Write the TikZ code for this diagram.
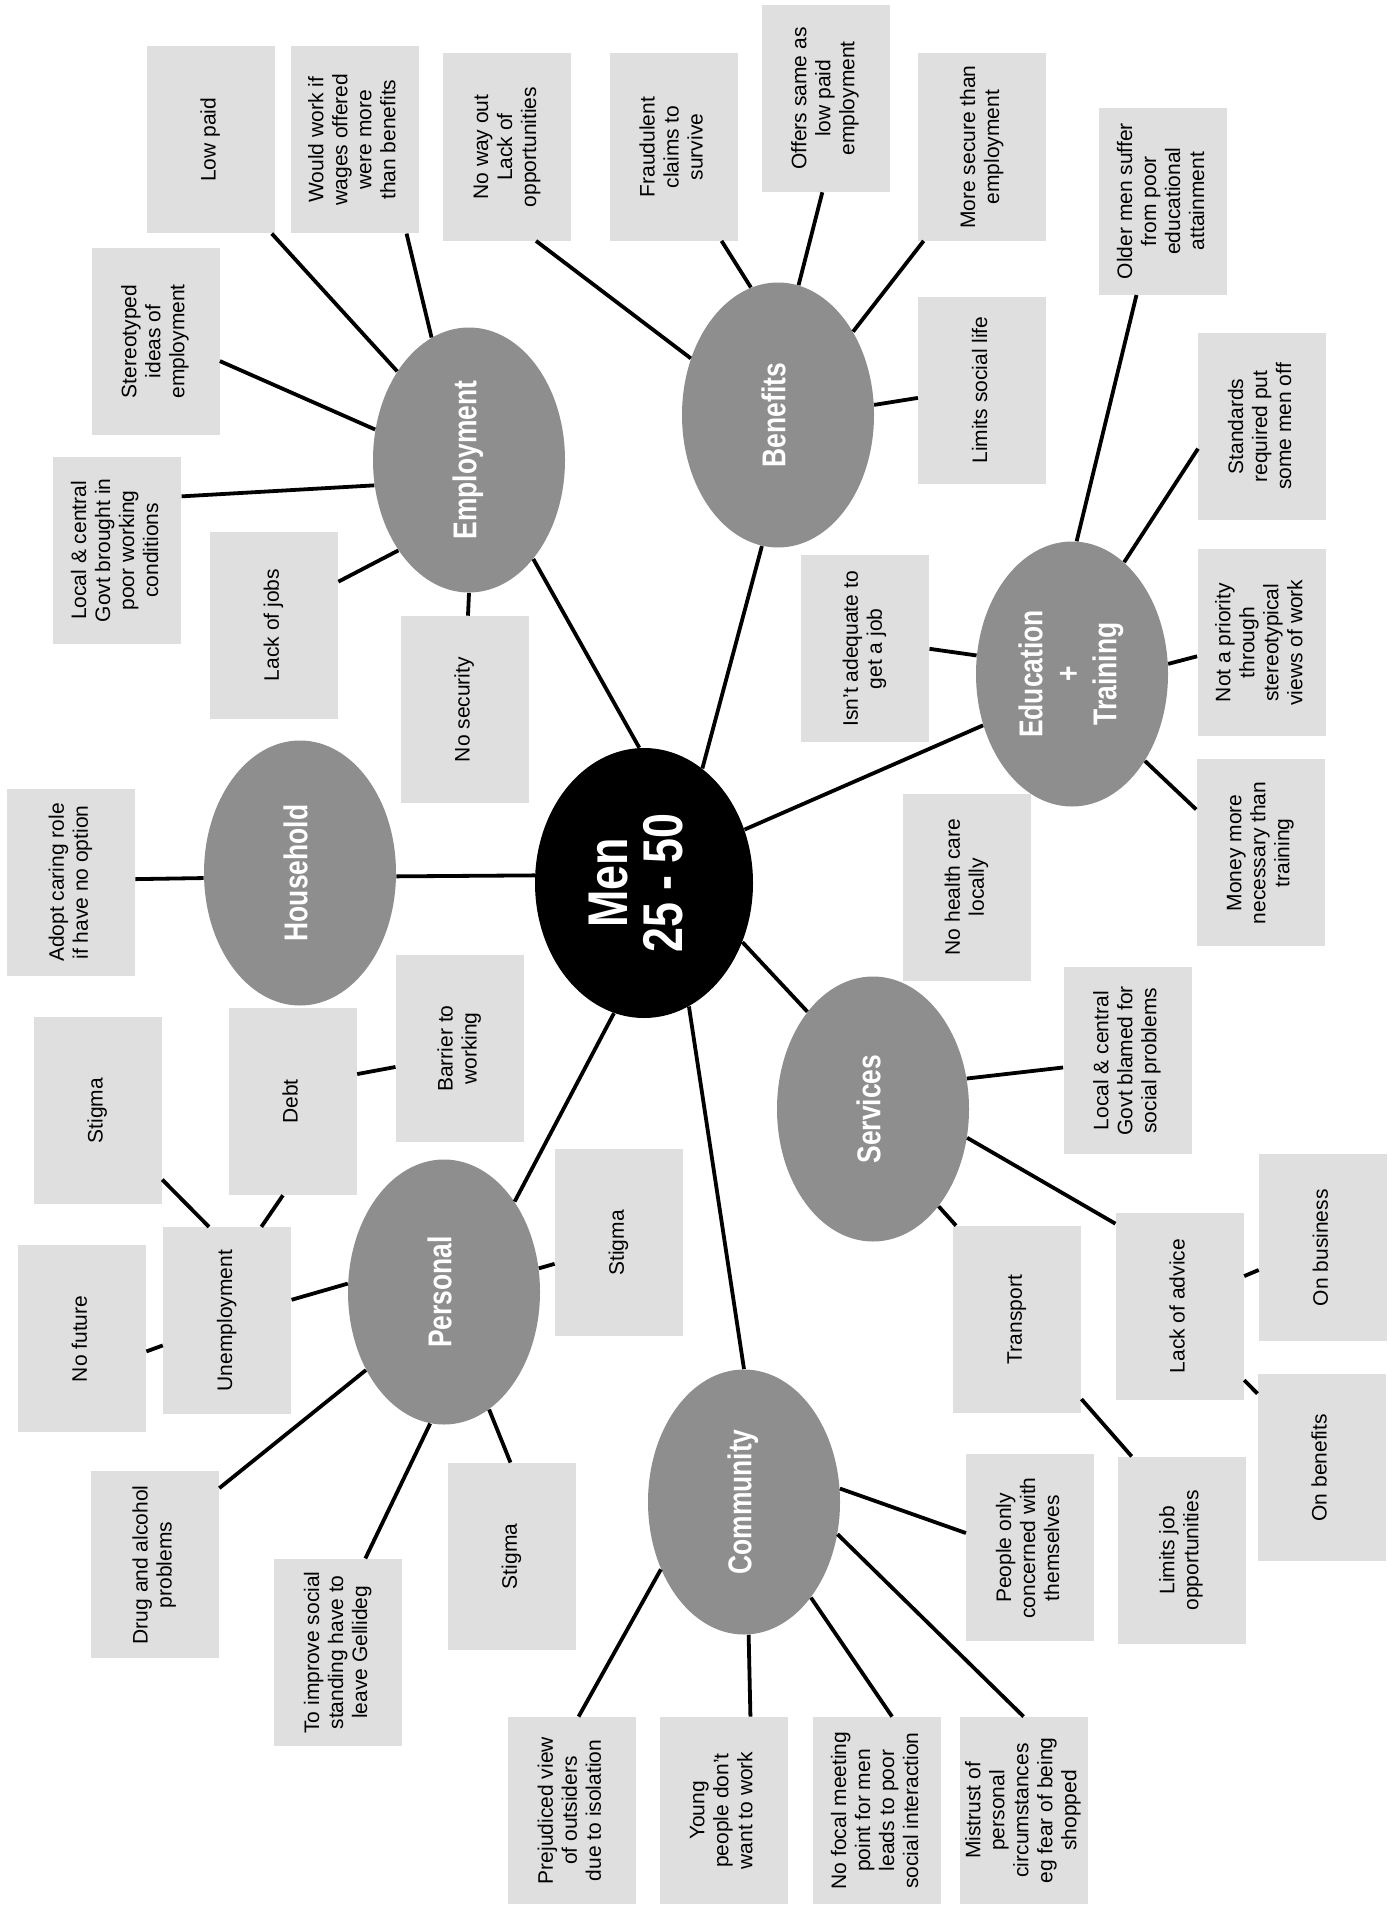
\documentclass[tikz,border=0pt]{standalone}
\usepackage{fontspec}
\usepackage{graphicx}
\setmainfont{Liberation Sans}
\newfontfamily\labelfont{Liberation Sans Bold}[FakeStretch=0.8]
\usetikzlibrary{shapes.geometric}
\definecolor{boxgray}{HTML}{DFDFDF}
\definecolor{topicgray}{HTML}{8E8E8E}
\newcommand\rt[1]{\rotatebox{90}{\begin{tabular}{@{}c@{}}#1\end{tabular}}}
\newcommand\boxfont{\fontsize{10.5}{12}\selectfont}
\newcommand\topicfont{\labelfont\fontsize{16.5}{18.5}\selectfont}
\newcommand\hubfont{\labelfont\fontsize{28}{27}\selectfont}
\tikzset{
  box/.style={fill=boxgray, minimum width=64pt, minimum height=93.5pt, inner sep=0pt, font=\boxfont},
  topic/.style={ellipse, fill=topicgray, minimum width=96pt, minimum height=132.5pt, inner sep=0pt, text=white, font=\topicfont},
  hub/.style={ellipse, fill=black, minimum width=109pt, minimum height=135pt, inner sep=0pt, text=white, font=\hubfont},
  link/.style={line width=1.9pt, black}
}
\begin{document}
\begin{tikzpicture}[x=0.5pt, y=-0.5pt]
\useasboundingbox (0,0) rectangle (1396,1905);
% ellipses
\node[hub] (men) at (644,883) {\rt{Men\\25 - 50}};
\node[topic] (emp) at (469,460) {\rt{Employment}};
\node[topic] (ben) at (778,415) {\rt{Benefits}};
\node[topic] (edu) at (1072,674) {\rt{Education\\+\\Training}};
\node[topic] (hou) at (300,873) {\rt{Household}};
\node[topic] (ser) at (873,1109) {\rt{Services}};
\node[topic] (per) at (444,1292) {\rt{Personal}};
\node[topic] (com) at (744,1502) {\rt{Community}};
% boxes
\node[box] (lowpaid) at (210.8,139.7) {\rt{Low paid}};
\node[box] (wouldwork) at (354.5,139.7) {\rt{Would work if\\wages offered\\were more\\than benefits}};
\node[box] (noway) at (507.3,147) {\rt{No way out\\Lack of\\opportunities}};
\node[box] (fraud) at (673.7,147) {\rt{Fraudulent\\claims to\\survive}};
\node[box] (offers) at (825.6,98.4) {\rt{Offers same as\\low paid\\employment}};
\node[box] (moresecure) at (982.3,147) {\rt{More secure than\\employment}};
\node[box] (older) at (1163.4,201.1) {\rt{Older men suffer\\from poor\\educational\\attainment}};
\node[box] (stereo) at (155.5,341.4) {\rt{Stereotyped\\ideas of\\employment}};
\node[box] (limitssocial) at (982.3,390) {\rt{Limits social life}};
\node[box] (standards) at (1262.4,426.5) {\rt{Standards\\required put\\some men off}};
\node[box] (govtbrought) at (117.2,550.4) {\rt{Local \& central\\Govt brought in\\poor working\\conditions}};
\node[box] (lackjobs) at (274,625.1) {\rt{Lack of jobs}};
\node[box] (nosecurity) at (464.7,709.6) {\rt{No security}};
\node[box] (isnt) at (865.1,648.8) {\rt{Isn’t adequate to\\get a job}};
\node[box] (notpriority) at (1261.5,642.6) {\rt{Not a priority\\through\\stereotypical\\views of work}};
\node[box] (adopt) at (71,882.5) {\rt{Adopt caring role\\if have no option}};
\node[box] (nohealth) at (967.1,887) {\rt{No health care\\locally}};
\node[box] (money) at (1260.6,852.9) {\rt{Money more\\necessary than\\training}};
\node[box] (barrier) at (459.9,1048.5) {\rt{Barrier to\\working}};
\node[box] (debt) at (292.8,1101.4) {\rt{Debt}};
\node[box] (stigmaA) at (97.8,1110.5) {\rt{Stigma}};
\node[box] (govtblamed) at (1127.5,1060.7) {\rt{Local \& central\\Govt blamed for\\social problems}};
\node[box] (stigmaB) at (619,1242.9) {\rt{Stigma}};
\node[box] (unemp) at (227.2,1320.7) {\rt{Unemployment}};
\node[box] (nofuture) at (82,1338.9) {\rt{No future}};
\node[box] (onbusiness) at (1323.1,1247.8) {\rt{On business}};
\node[box] (transport) at (1017,1319.5) {\rt{Transport}};
\node[box] (lackadvice) at (1179.8,1306.1) {\rt{Lack of advice}};
\node[box] (onbenefits) at (1321.9,1467.7) {\rt{On benefits}};
\node[box] (drug) at (154.9,1564.9) {\rt{Drug and alcohol\\problems}};
\node[box] (stigmaC) at (512.1,1556.4) {\rt{Stigma}};
\node[box] (people) at (1030.3,1547.9) {\rt{People only\\concerned with\\themselves}};
\node[box] (limitsjob) at (1181.6,1550.3) {\rt{Limits job\\opportunities}};
\node[box] (improve) at (338.4,1652.4) {\rt{To improve social\\standing have to\\leave Gellideg}};
\node[box] (prejudiced) at (572,1810.5) {\rt{Prejudiced view\\of outsiders\\due to isolation}};
\node[box] (young) at (723.5,1810.5) {\rt{Young\\people don’t\\want to work}};
\node[box] (nofocal) at (877.2,1810.5) {\rt{No focal meeting\\point for men\\leads to poor\\social interaction}};
\node[box] (mistrust) at (1023.6,1810.5) {\rt{Mistrust of\\personal\\circumstances\\eg fear of being\\shopped}};
% Employment
\draw[link] (lowpaid.-57.8) -- (emp.129.2);
\draw[link] (wouldwork.-61.7) -- (emp.107);
\draw[link] (stereo.-17.8) -- (emp.162.4);
\draw[link] (govtbrought.40.6) -- (emp.195.8);
\draw[link] (lackjobs.34.8) -- (emp.232.9);
\draw[link] (nosecurity.88) -- (emp.270);
\draw[link] (emp.-57.5) -- (men.92);
% Benefits
\draw[link] (noway.-73) -- (ben.147.4);
\draw[link] (fraud.-63.4) -- (ben.102.7);
\draw[link] (offers.268.1) -- (ben.81.3);
\draw[link] (moresecure.238.3) -- (ben.48.4);
\draw[link] (limitssocial.187.6) -- (ben.6.5);
\draw[link] (ben.263.1) -- (men.63.2);
% Education
\draw[link] (older.254.5) -- (edu.88.1);
\draw[link] (standards.199.7) -- (edu.65.8);
\draw[link] (isnt.0) -- (edu.169.5);
\draw[link] (notpriority.192.8) -- (edu.6.8);
\draw[link] (money.146) -- (edu.-50);
\draw[link] (edu.210) -- (men.28.4);
% Household
\draw[link] (adopt.3.1) -- (hou.183.6);
\draw[link] (hou.-2.4) -- (men.176.3);
% Services
\draw[link] (men.-31) -- (ser.124.9);
\draw[link] (ser.18.3) -- (govtblamed.186.5);
\draw[link] (ser.-17.2) -- (lackadvice.128.3);
\draw[link] (ser.-56.2) -- (transport.123.5);
\draw[link] (lackadvice.25.3) -- (onbusiness.199.7);
\draw[link] (lackadvice.-49) -- (onbenefits.131);
\draw[link] (transport.-51.2) -- (limitsjob.118.3);
% Personal
\draw[link] (men.257.8) -- (per.52.4);
\draw[link] (per.175.3) -- (unemp.18.8);
\draw[link] (unemp.70.7) -- (debt.264.8);
\draw[link] (unemp.101.7) -- (stigmaA.-47.8);
\draw[link] (unemp.201.6) -- (nofuture.-11.8);
\draw[link] (per.14.6) -- (stigmaB.198);
\draw[link] (per.225.4) -- (drug.50.2);
\draw[link] (per.264.5) -- (improve.74.4);
\draw[link] (per.-69.4) -- (stigmaC.91.9);
\draw[link] (debt.23) -- (barrier.196);
% Community
\draw[link] (men.-70.4) -- (com.90.3);
\draw[link] (com.8) -- (people.167.5);
\draw[link] (com.219.1) -- (prejudiced.86.7);
\draw[link] (com.272.4) -- (young.74.4);
\draw[link] (com.-55.7) -- (nofocal.81.9);
\draw[link] (com.-19) -- (mistrust.90.4);
\end{tikzpicture}
\end{document}
